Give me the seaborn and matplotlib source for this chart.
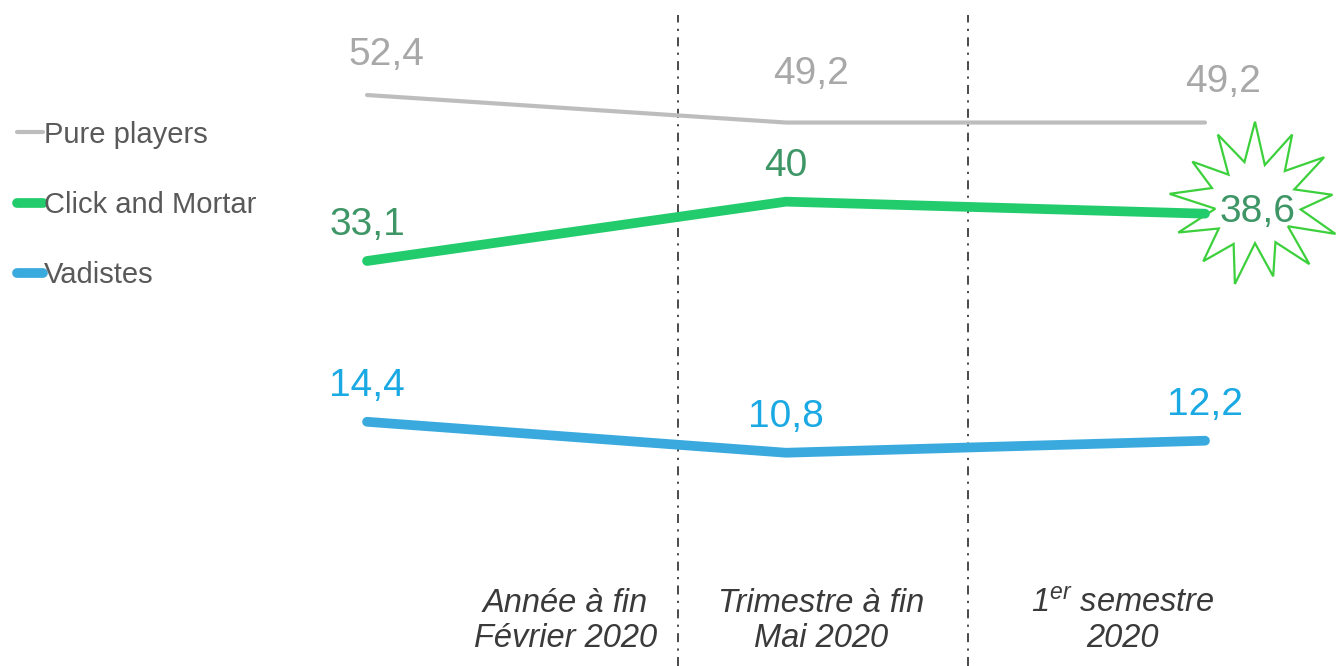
import numpy as np
import pandas as pd
import matplotlib
matplotlib.use("Agg")
import matplotlib.pyplot as plt
from matplotlib.patches import Polygon
import seaborn as sns

# --- data ---------------------------------------------------------------
periods = ["Année à fin\nFévrier 2020", "Trimestre à fin\nMai 2020", "$1^{er}$ semestre\n2020"]
series_names = ["Pure players", "Click and Mortar", "Vadistes"]
pure_players = [52.4, 49.2, 49.2]
click_and_mortar = [33.1, 40.0, 38.6]
vadistes = [14.4, 10.8, 12.2]

# --- style --------------------------------------------------------------
sns.set_theme(style="white")
plt.rcParams["font.family"] = ["Liberation Sans", "DejaVu Sans"]
plt.rcParams["mathtext.fontset"] = "custom"
plt.rcParams["mathtext.rm"] = "Liberation Sans:italic"
plt.rcParams["mathtext.it"] = "Liberation Sans:italic"

line_colors = {"Pure players": "#bdbdbd", "Click and Mortar": "#22cc6c", "Vadistes": "#3aaade"}
label_colors = {"Pure players": "#a8a8a8", "Click and Mortar": "#3e9666", "Vadistes": "#1ba9e3"}
line_widths = {"Pure players": 3.0, "Click and Mortar": 7.0, "Vadistes": 7.0}

W, H = 1337, 666
fig = plt.figure(figsize=(W / 100, H / 100), dpi=100)
ax = fig.add_axes([0, 0, 1, 1])

x_pos = np.arange(len(periods))
df = pd.DataFrame({
    "x": np.tile(x_pos, 3),
    "value": pure_players + click_and_mortar + vadistes,
    "series": np.repeat(series_names, len(periods)),
})

for name in series_names:
    sub = df[df["series"] == name]
    sns.lineplot(data=sub, x="x", y="value", ax=ax, color=line_colors[name],
                 linewidth=line_widths[name], label=name, solid_capstyle="round",
                 solid_joinstyle="round", zorder=3)

ax.set_xlim(-0.876, 2.315)
ax.set_ylim(-14.0, 63.45)
ax.set_axis_off()

# dash-dot separators between periods
for xs in [0.742, 1.434]:
    ax.axvline(xs, ymin=0, ymax=0.977, color="#3c3c3c", lw=1.3,
               linestyle=(0, (5, 3.5, 1.2, 3.5)), zorder=1)

# period labels under the plot
label_x = [0.473, 1.083, 1.804]
for xl, txt in zip(label_x, periods):
    ax.text(xl, -8.8, txt, ha="center", va="center", fontsize=23.5,
            style="italic", color="#3a3a3a", linespacing=1.18)

# value labels (offsets in points)
offsets = {
    "Pure players": [(14, 29), (18, 35), (13, 29)],
    "Click and Mortar": [(0, 26), (0, 26), (38, 1)],
    "Vadistes": [(0, 26), (0, 26), (0, 26)],
}
values = {"Pure players": pure_players, "Click and Mortar": click_and_mortar, "Vadistes": vadistes}

# burst shape behind the last Click and Mortar value
cx, cy = 1255, 204
n_spikes = 13
outer = [84, 80, 76, 86, 82, 78, 84, 76, 82, 86, 78, 84, 80]
inner = [44, 40, 46, 40, 44, 46, 40, 44, 40, 46, 42, 45, 41]
pts = []
for i in range(n_spikes):
    a_out = np.pi / 2 + 2 * np.pi * i / n_spikes
    a_in = a_out + np.pi / n_spikes
    pts.append((cx + outer[i] * np.cos(a_out), cy - 0.98 * outer[i] * np.sin(a_out)))
    pts.append((cx + inner[i] * np.cos(a_in), cy - 0.98 * inner[i] * np.sin(a_in)))
pts = [(px / W, 1 - py / H) for px, py in pts]
star = Polygon(pts, closed=True, transform=ax.transAxes, facecolor="white",
               edgecolor="#3cd03c", lw=1.6, zorder=2)
ax.add_patch(star)

for name in series_names:
    for i, v in enumerate(values[name]):
        ax.annotate(f"{v:g}".replace(".", ","), (x_pos[i], v),
                    xytext=offsets[name][i], textcoords="offset points",
                    ha="center", va="center", fontsize=28,
                    color=label_colors[name], zorder=5)

# legend on the left
leg = ax.legend(loc="upper left", bbox_to_anchor=(2 / W, 1 - 106 / H),
                bbox_transform=ax.transAxes, frameon=False, fontsize=21,
                handlelength=0.9, handletextpad=0.05, labelspacing=1.45,
                borderpad=0, labelcolor="#595959")

fig.savefig("out.png", dpi=100)
